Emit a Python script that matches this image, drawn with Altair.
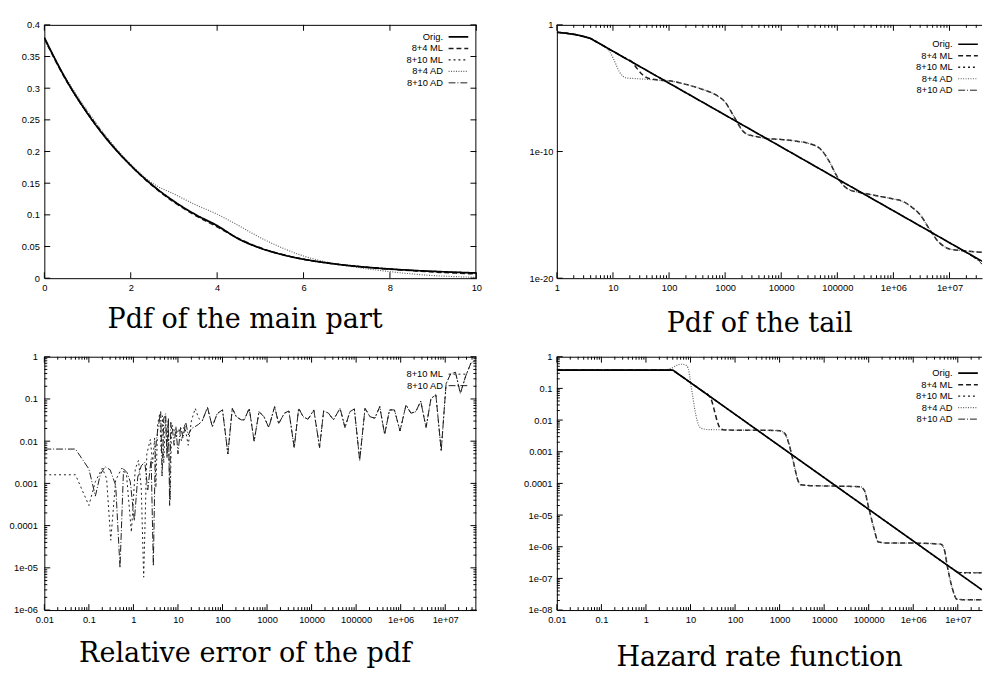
import altair as alt
import pandas as pd

NAMES = ["Orig.", "8+4 ML", "8+10 ML", "8+4 AD", "8+10 AD"]
DASHES = [[1, 0], [5, 3], [2, 3], [1, 1.5], [7, 2, 1, 2]]
COLORS = ["#000000", "#1c1c1c", "#1c1c1c", "#5e5e5e", "#1c1c1c"]
WIDTHS = [1.7, 1.0, 1.0, 1.0, 1.0]

# ---------------- Panel 1: pdf of the main part (linear axes)
P1_X = [0, 0.5, 1, 1.5, 2, 2.5, 3, 3.5, 4, 4.5, 5, 5.5, 6, 6.5, 7, 7.5, 8, 8.5, 9, 9.5, 10]
P1_ORIG = [0.380, 0.314, 0.260, 0.215, 0.178, 0.147, 0.1215, 0.1005, 0.0831, 0.0618, 0.0474,
           0.0373, 0.0299, 0.0245, 0.0203, 0.0171, 0.0145, 0.0124, 0.0108, 0.0094, 0.0083]
P1_ML4 = [0.378, 0.313, 0.261, 0.216, 0.178, 0.146, 0.120, 0.099, 0.081, 0.0625, 0.048,
          0.0375, 0.0298, 0.0243, 0.0201, 0.0168, 0.0141, 0.0118, 0.0098, 0.0081, 0.0066]
P1_ML10 = [0.379, 0.314, 0.260, 0.215, 0.178, 0.147, 0.121, 0.100, 0.0825, 0.0622, 0.0476,
           0.0373, 0.0299, 0.0245, 0.0203, 0.0171, 0.0145, 0.0124, 0.0108, 0.0094, 0.0083]
P1_AD4 = [0.377, 0.316, 0.264, 0.218, 0.180, 0.150, 0.133, 0.116, 0.101, 0.083, 0.064,
          0.048, 0.035, 0.026, 0.0197, 0.0145, 0.0103, 0.0068, 0.0041, 0.0025, 0.0014]
P1_AD10 = [0.380, 0.313, 0.259, 0.215, 0.178, 0.147, 0.1215, 0.100, 0.082, 0.0622, 0.0476,
           0.0373, 0.0299, 0.0245, 0.0203, 0.0171, 0.0145, 0.0124, 0.0108, 0.0094, 0.0083]

# ---------------- Panel 2: pdf of the tail (log-log)
P2_ORIG_X = [1, 1.5, 2, 2.5, 3, 3.5, 4, 10, 100, 1000, 10000, 100000, 1000000, 10000000, 38000000]
P2_ORIG_Y = [0.26, 0.215, 0.178, 0.147, 0.1215, 0.1005, 0.0831, 8.3e-3, 2.5e-5, 7.6e-8, 2.3e-10,
             6.9e-13, 2.1e-15, 6.3e-18, 2.2e-19]
P2_ML4_HEAD_X = [1, 1.5, 2, 3, 4, 6, 10, 15, 22, 27, 33, 40, 50, 70]
P2_ML4_HEAD_Y = [0.26, 0.215, 0.178, 0.1215, 0.083, 0.030, 8.3e-3, 2.95e-3, 1.12e-3, 3.5e-4,
                 1.26e-4, 6.8e-5, 5.2e-5, 4.3e-5]
P2_AD4_HEAD_X = [1, 1.5, 2, 3, 4, 5, 6, 7.5, 9, 11, 13, 15, 18, 25, 40, 60]
P2_AD4_HEAD_Y = [0.26, 0.215, 0.178, 0.1215, 0.085, 0.05, 0.0316, 0.017, 6.3e-3, 1.0e-3, 2.0e-4,
                 8.9e-5, 6.3e-5, 5.75e-5, 5.0e-5, 4.4e-5]
P2_TAIL4_X = [100, 200, 400, 700, 1000, 1300, 1600, 2000, 2500, 3000, 5000, 10000, 20000, 30000,
              50000, 70000, 100000, 130000, 170000, 220000, 350000, 500000, 1000000, 1500000,
              2000000, 3000000, 4500000, 6000000, 8000000, 10000000, 20000000, 38000000]
P2_TAIL4_Y = [3.8e-5, 2.0e-5, 7.9e-6, 2.8e-6, 7.9e-7, 1.26e-7, 2.5e-8, 5.0e-9, 2.2e-9, 1.8e-9,
              1.12e-9, 8.9e-10, 6.3e-10, 4.5e-10, 1.6e-10, 2.0e-11, 1.0e-12, 2.0e-13, 8.9e-14,
              6.6e-14, 4.5e-14, 3.2e-14, 1.8e-14, 1.1e-14, 5.0e-15, 1.0e-15, 6.3e-17, 1.0e-17,
              3.2e-18, 2.0e-18, 1.4e-18, 1.1e-18]
P2_10_X = [1, 1.5, 2, 2.5, 3, 3.5, 4, 5, 10, 100, 1000, 10000, 100000, 1000000, 10000000,
           20000000, 30000000, 38000000]
P2_ML10_Y = [0.26, 0.215, 0.178, 0.147, 0.121, 0.1, 0.082, 0.047, 8.3e-3, 2.5e-5, 7.6e-8, 2.3e-10,
             6.9e-13, 2.1e-15, 6.3e-18, 1.05e-18, 3.6e-19, 1.6e-19]
P2_AD10_Y = [0.26, 0.215, 0.178, 0.147, 0.121, 0.1, 0.082, 0.047, 8.3e-3, 2.5e-5, 7.6e-8, 2.3e-10,
             6.9e-13, 2.1e-15, 6.3e-18, 1.0e-18, 3.2e-19, 1.3e-19]

# ---------------- Panel 3: relative error of the pdf
P3_ML_X = [0.01, 0.05, 0.1, 0.14, 0.2, 0.25, 0.31, 0.4, 0.55, 0.7, 0.9, 1.1, 1.3, 1.5, 1.7, 2.0,
           2.4, 2.7, 3.0, 3.2, 3.5, 3.9, 4.2, 4.5, 4.8, 5.2, 5.6, 6.0, 6.7, 7.2, 8, 9, 10.5, 12,
           14, 17, 20, 24.5, 29, 35]
P3_ML_Y = [0.0016, 0.0016, 0.0003, 0.0011, 0.0023, 0.0013, 0.000045, 0.0012, 0.0023, 0.0016,
           0.00007, 0.0022, 0.0035, 0.0008, 0.000006, 0.005, 0.011, 0.003, 0.012, 0.0008, 0.025,
           0.045, 0.006, 0.04, 0.003, 0.038, 0.006, 0.03, 0.0004, 0.025, 0.02, 0.012, 0.02, 0.01,
           0.025, 0.008, 0.03, 0.06, 0.035, 0.03]
P3_AD_X = [0.01, 0.05, 0.1, 0.14, 0.18, 0.23, 0.3, 0.4, 0.5, 0.6, 0.72, 0.85, 1.05, 1.25, 1.5, 1.8,
           2.1, 2.5, 2.8, 3.1, 3.5, 4.1, 4.4, 4.8, 5.3, 5.7, 6.1, 6.5, 6.9, 7.5, 8.2, 9.0, 10,
           11.5, 13, 15, 17, 20, 24, 29, 35]
P3_AD_Y = [0.0065, 0.0065, 0.0022, 0.0005, 0.0016, 0.0025, 0.0021, 0.0009, 0.00001, 0.0022,
           0.0018, 0.0011, 0.00013, 0.0014, 0.0026, 0.0032, 0.0007, 0.0038, 0.000011, 0.006,
           0.018, 0.05, 0.0015, 0.035, 0.045, 0.004, 0.035, 0.0003, 0.028, 0.02, 0.008, 0.022,
           0.005, 0.022, 0.012, 0.028, 0.014, 0.02, 0.022, 0.025, 0.03]
P3_TAIL_X = [46, 59, 76, 100, 132, 166, 204, 263, 309, 398, 513, 661, 851, 1096, 1479, 1820, 2455,
             3090, 4074, 5129, 6457, 8318, 11220, 15136, 18621, 23988, 30903, 43652, 56234, 72444,
             91201, 120226, 158489, 204174, 263027, 338844, 436516, 562341, 724436, 966051,
             1318257, 1698244, 2187762, 2818383, 3715352, 4786301, 6165950, 8128305, 10471285,
             13182567, 16982436, 21877616, 28840315, 38018940, 46773514]
P3_TAIL_Y = [0.063, 0.022, 0.045, 0.055, 0.005, 0.06, 0.038, 0.032, 0.032, 0.06, 0.01, 0.05, 0.038,
             0.021, 0.066, 0.026, 0.046, 0.052, 0.007, 0.06, 0.038, 0.033, 0.055, 0.007, 0.052,
             0.046, 0.032, 0.06, 0.021, 0.05, 0.058, 0.0035, 0.06, 0.038, 0.035, 0.066, 0.0145,
             0.055, 0.055, 0.0174, 0.072, 0.046, 0.05, 0.089, 0.021, 0.102, 0.126, 0.0059, 0.23,
             0.39, 0.43, 0.135, 0.35, 0.72, 0.8]

# ---------------- Panel 4: hazard rate function
P4_ORIG_X = [0.01, 1, 4, 10, 100, 1000, 10000, 100000, 1000000, 10000000, 35000000]
P4_ORIG_Y = [0.38, 0.38, 0.38, 0.152, 0.0152, 0.00152, 0.000152, 0.0000152, 0.00000152,
             0.000000152, 0.0000000434]
P4_ML4_HEAD_X = [0.01, 1, 3, 4, 5, 10, 20, 26, 30, 35, 40, 48, 60]
P4_ML4_HEAD_Y = [0.38, 0.38, 0.38, 0.37, 0.3, 0.152, 0.076, 0.058, 0.04, 0.018, 0.009, 0.0052, 0.0049]
P4_AD4_HEAD_X = [0.01, 1, 2.5, 3.5, 4.5, 5.5, 6.5, 7.5, 8.8, 9.7, 10.5, 11.5, 12.4, 14, 17.4, 25, 60]
P4_AD4_HEAD_Y = [0.38, 0.38, 0.385, 0.42, 0.5, 0.57, 0.58, 0.56, 0.45, 0.22, 0.1, 0.045, 0.023,
                 0.01, 0.0055, 0.005, 0.0049]
P4_TAIL4_X = [100, 300, 1000, 1300, 1600, 1860, 2200, 2600, 3000, 5000, 20000, 65000, 80000,
              100000, 130000, 165000, 300000, 1000000, 4200000, 5000000, 5800000, 7500000,
              9600000, 20000000, 35000000]
P4_TAIL4_Y = [0.0048, 0.0048, 0.0046, 0.0038, 0.0019, 0.00083, 0.0003, 0.00012, 0.00009, 0.000085,
              0.000082, 0.000078, 0.00006, 0.000017, 0.000004, 0.0000014, 0.0000013, 0.0000013,
              0.0000012, 0.0000008, 0.00000025, 0.00000005, 0.000000022, 0.000000021, 0.000000021]
P4_10_X = [0.01, 1, 3, 4, 5, 10, 100, 1000, 10000, 100000, 1000000, 5000000, 8000000, 10000000,
           13000000, 20000000, 35000000]
P4_ML10_Y = [0.38, 0.38, 0.378, 0.365, 0.3, 0.152, 0.0152, 0.00152, 0.000152, 0.0000152,
             0.00000152, 0.000000304, 0.000000195, 0.00000016, 0.00000015, 0.00000015, 0.00000015]
P4_AD10_Y = [0.38, 0.38, 0.378, 0.365, 0.3, 0.152, 0.0152, 0.00152, 0.000152, 0.0000152,
             0.00000152, 0.000000304, 0.000000195, 0.00000016, 0.000000152, 0.00000015, 0.00000015]

# ---------------- tick labels
LIN_X_TICKS = [0, 2, 4, 6, 8, 10]
LIN_X_LABELS = ["0", "2", "4", "6", "8", "10"]
LIN_Y_TICKS = [0, 0.05, 0.1, 0.15, 0.2, 0.25, 0.3, 0.35, 0.4]
LIN_Y_LABELS = ["0", "0.05", "0.1", "0.15", "0.2", "0.25", "0.3", "0.35", "0.4"]
P2_X_TICKS = [1, 10, 100, 1000, 10000, 100000, 1000000, 10000000]
P2_X_LABELS = ["1", "10", "100", "1000", "10000", "100000", "1e+06", "1e+07"]
P2_Y_TICKS = [1, 1e-10, 1e-20]
P2_Y_LABELS = ["1", "1e-10", "1e-20"]
P34_X_TICKS = [0.01, 0.1, 1, 10, 100, 1000, 10000, 100000, 1000000, 10000000]
P34_X_LABELS = ["0.01", "0.1", "1", "10", "100", "1000", "10000", "100000", "1e+06", "1e+07"]
P3_Y_TICKS = [1, 0.1, 0.01, 0.001, 0.0001, 1e-5, 1e-6]
P3_Y_LABELS = ["1", "0.1", "0.01", "0.001", "0.0001", "1e-05", "1e-06"]
P4_Y_TICKS = [1, 0.1, 0.01, 0.001, 0.0001, 1e-5, 1e-6, 1e-7, 1e-8]
P4_Y_LABELS = ["1", "0.1", "0.01", "0.001", "0.0001", "1e-05", "1e-06", "1e-07", "1e-08"]

W_LEFT, W_RIGHT, H = 440, 433, 258
MAJ, MIN = 6, 3


def frame(series):
    rows = []
    for name, xs, ys in series:
        for a, b in zip(xs, ys):
            rows.append({"series": name, "x": a, "y": b})
    return pd.DataFrame(rows)


def minors(e0, e1, lo, hi):
    out = []
    for e in range(e0, e1 + 1):
        for m in range(2, 10):
            v = m * 10.0 ** e
            if lo < v < hi:
                out.append(v)
    return out


def label_expr(vals, labels, linear=False):
    if linear:
        parts = [f"abs(datum.value - {float(v)!r}) < 1e-9 ? '{lab}'" for v, lab in zip(vals, labels)]
    else:
        parts = [f"abs(datum.value / {float(v)!r} - 1) < 1e-6 ? '{lab}'" for v, lab in zip(vals, labels)]
    return " : ".join(parts) + " : ''"


def make_legend(lx, ly):
    return alt.Legend(orient="none", legendX=lx, legendY=ly, title=None,
                      symbolType="M-4,0L4,0", symbolSize=25,
                      labelAlign="right", labelOffset={"expr": "-20.5"},
                      labelFont="Liberation Sans", labelFontSize=9.5,
                      labelColor="black", rowPadding=0.7, padding=0, labelBaseline="middle")


def x_axis(vals, labels, title, tx, ty, linear=False):
    return alt.Axis(values=vals, ticks=False, domain=True, domainColor="black", domainWidth=1,
                    grid=False, labelPadding=5, labelFlush=False, labelOverlap=False,
                    labelExpr=label_expr(vals, labels, linear),
                    title=title, titleFont="DejaVu Serif", titleFontSize=27.5,
                    titleFontWeight="normal", titleColor="black", titleX=tx, titleY=ty,
                    titleBaseline="alphabetic", titleAlign="center")


def y_axis(vals, labels, pad, linear=False):
    return alt.Axis(values=vals, ticks=False, domain=True, domainColor="black", domainWidth=1,
                    grid=False, labelPadding=pad, labelFlush=False, labelOverlap=False,
                    labelExpr=label_expr(vals, labels, linear), title=None)


def panel(df, names, W, xs, ys, xax, yax, legend, interp, interp_orig,
          xmaj, xmin, ymaj, ymin, right_border):
    idx = [NAMES.index(n) for n in names]
    style = dict(
        color=alt.Color("series:N", scale=alt.Scale(domain=names, range=[COLORS[i] for i in idx]),
                        legend=legend),
        strokeDash=alt.StrokeDash("series:N",
                                  scale=alt.Scale(domain=names, range=[DASHES[i] for i in idx]),
                                  legend=legend),
        strokeWidth=alt.StrokeWidth("series:N",
                                    scale=alt.Scale(domain=names, range=[WIDTHS[i] for i in idx]),
                                    legend=legend),
    )
    X = alt.X("x:Q", scale=xs, axis=xax)
    Y = alt.Y("y:Q", scale=ys, axis=yax)
    base = alt.Chart(df)
    layers = [base.transform_filter(alt.datum.series != "Orig.")
              .mark_line(clip=True, interpolate=interp).encode(x=X, y=Y, **style)]
    if "Orig." in names:
        layers.append(base.transform_filter(alt.datum.series == "Orig.")
                      .mark_line(clip=True, interpolate=interp_orig).encode(x=X, y=Y, **style))

    def xt(vals, L):
        if not vals:
            return []
        c = alt.Chart(pd.DataFrame({"v": vals})).mark_rule(color="black", strokeWidth=1)
        return [c.encode(x=alt.X("v:Q", scale=xs, axis=xax), y=alt.value(H), y2=alt.value(H - L)),
                c.encode(x=alt.X("v:Q", scale=xs, axis=xax), y=alt.value(0), y2=alt.value(L))]

    def yt(vals, L):
        if not vals:
            return []
        c = alt.Chart(pd.DataFrame({"v": vals})).mark_rule(color="black", strokeWidth=1)
        out = [c.encode(y=alt.Y("v:Q", scale=ys, axis=yax), x=alt.value(0), x2=alt.value(L))]
        if right_border:
            out.append(c.encode(y=alt.Y("v:Q", scale=ys, axis=yax), x=alt.value(W),
                                x2=alt.value(W - L)))
        return out

    layers += xt(xmaj, MAJ) + xt(xmin, MIN) + yt(ymaj, MAJ) + yt(ymin, MIN)
    one = alt.Chart(pd.DataFrame({"a": [0]}))
    layers.append(one.mark_rule(color="black", strokeWidth=1).encode(
        x=alt.value(0), x2=alt.value(W), y=alt.value(0.5)))
    if right_border:
        layers.append(one.mark_rule(color="black", strokeWidth=1).encode(
            x=alt.value(W - 0.5), y=alt.value(0), y2=alt.value(H)))
    return alt.layer(*layers).properties(width=W, height=H)


# ---------- build panels
df1 = frame([("Orig.", P1_X, P1_ORIG), ("8+4 ML", P1_X, P1_ML4), ("8+10 ML", P1_X, P1_ML10),
             ("8+4 AD", P1_X, P1_AD4), ("8+10 AD", P1_X, P1_AD10)])
p1 = panel(df1, NAMES, W_LEFT,
           alt.Scale(domain=[0, 10], nice=False, zero=False),
           alt.Scale(domain=[0, 0.4], nice=False, zero=False),
           x_axis(LIN_X_TICKS, LIN_X_LABELS, "Pdf of the main part", 204, 50, linear=True),
           y_axis(LIN_Y_TICKS, LIN_Y_LABELS, 5, linear=True),
           make_legend(417, 7.5), "monotone", "monotone",
           LIN_X_TICKS, [], LIN_Y_TICKS, [], True)

df2 = frame([("Orig.", P2_ORIG_X, P2_ORIG_Y),
             ("8+4 ML", P2_ML4_HEAD_X + P2_TAIL4_X, P2_ML4_HEAD_Y + P2_TAIL4_Y),
             ("8+10 ML", P2_10_X, P2_ML10_Y),
             ("8+4 AD", P2_AD4_HEAD_X + P2_TAIL4_X, P2_AD4_HEAD_Y + P2_TAIL4_Y),
             ("8+10 AD", P2_10_X, P2_AD10_Y)])
p2 = panel(df2, NAMES, W_RIGHT,
           alt.Scale(type="log", domain=[1, 38000000], nice=False),
           alt.Scale(type="log", domain=[1e-20, 1], nice=False),
           x_axis(P2_X_TICKS, P2_X_LABELS, "Pdf of the tail", 206, 54),
           y_axis(P2_Y_TICKS, P2_Y_LABELS, 4),
           make_legend(414, 15), "monotone", "linear",
           P2_X_TICKS, minors(0, 7, 1, 38000000), P2_Y_TICKS, [], False)

df3 = frame([("8+10 ML", P3_ML_X + P3_TAIL_X, P3_ML_Y + P3_TAIL_Y),
             ("8+10 AD", P3_AD_X + P3_TAIL_X, P3_AD_Y + P3_TAIL_Y)])
p3 = panel(df3, ["8+10 ML", "8+10 AD"], W_LEFT,
           alt.Scale(type="log", domain=[0.01, 50000000], nice=False),
           alt.Scale(type="log", domain=[1e-6, 1], nice=False),
           x_axis(P34_X_TICKS, P34_X_LABELS, "Relative error of the pdf", 204, 52),
           y_axis(P3_Y_TICKS, P3_Y_LABELS, 7),
           make_legend(417, 13), "linear", "linear",
           P34_X_TICKS, minors(-2, 7, 0.01, 50000000), P3_Y_TICKS, minors(-6, -1, 1e-6, 1), True)

df4 = frame([("Orig.", P4_ORIG_X, P4_ORIG_Y),
             ("8+4 ML", P4_ML4_HEAD_X + P4_TAIL4_X, P4_ML4_HEAD_Y + P4_TAIL4_Y),
             ("8+10 ML", P4_10_X, P4_ML10_Y),
             ("8+4 AD", P4_AD4_HEAD_X + P4_TAIL4_X, P4_AD4_HEAD_Y + P4_TAIL4_Y),
             ("8+10 AD", P4_10_X, P4_AD10_Y)])
p4 = panel(df4, NAMES, W_RIGHT,
           alt.Scale(type="log", domain=[0.01, 35000000], nice=False),
           alt.Scale(type="log", domain=[1e-8, 1], nice=False),
           x_axis(P34_X_TICKS, P34_X_LABELS, "Hazard rate function", 206, 56),
           y_axis(P4_Y_TICKS, P4_Y_LABELS, 5),
           make_legend(414, 12), "monotone", "linear",
           P34_X_TICKS, minors(-2, 7, 0.01, 35000000), P4_Y_TICKS, minors(-8, -1, 1e-8, 1), False)

chart = (
    alt.concat(p1, p2, p3, p4, columns=2, spacing={"row": 80, "column": 82}, bounds="flush")
    .resolve_scale(x="independent", y="independent", color="independent",
                   strokeDash="independent", strokeWidth="independent")
    .resolve_legend(color="independent", strokeDash="independent", strokeWidth="independent")
    .properties(padding={"left": 0, "top": 6, "right": 0, "bottom": 0})
    .configure_view(stroke=None)
    .configure_axis(labelFont="Liberation Sans", labelFontSize=9.5, labelColor="black", grid=False)
)

chart.save("out.html", embed_options={"renderer": "svg", "actions": False})
